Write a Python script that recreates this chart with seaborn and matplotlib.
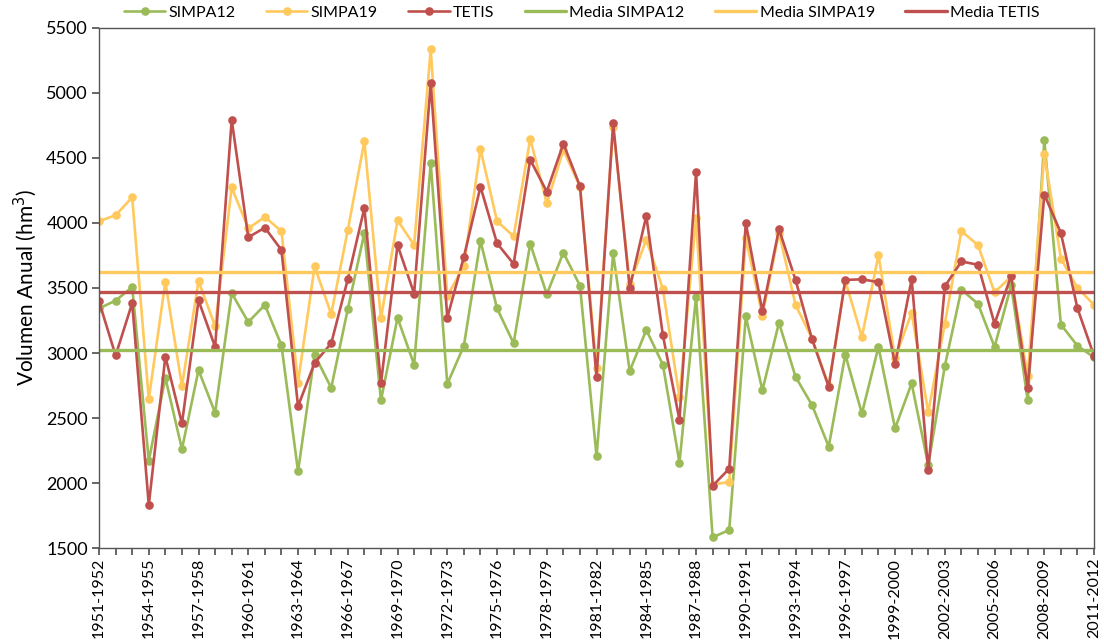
import numpy as np
import pandas as pd
import matplotlib
matplotlib.use('Agg')
import matplotlib.pyplot as plt
import seaborn as sns

# Años hidrológicos 1951-1952 ... 2011-2012
anios = [f"{a}-{a + 1}" for a in range(1951, 2012)]

simpa12 = [3343, 3403, 3507, 2171, 2809, 2261, 2869, 2540, 3460, 3238,
           3370, 3060, 2089, 2987, 2732, 3337, 3923, 2636, 3271, 2910,
           4460, 2762, 3055, 3863, 3343, 3074, 3841, 3452, 3772, 3518,
           2206, 3767, 2861, 3178, 2910, 2157, 3433, 1582, 1639, 3282,
           2713, 3233, 2817, 2598, 2280, 2987, 2535, 3047, 2420, 2767,
           2138, 2899, 3488, 3378, 3047, 3520, 2636, 4635, 3219, 3055,
           2967]
simpa19 = [4013, 4060, 4197, 2644, 3548, 2746, 3553, 3206, 4273, 3959,
           4046, 3937, 2773, 3666, 3299, 3945, 4629, 3266, 4021, 3830,
           5336, 3438, 3671, 4569, 4013, 3898, 4648, 4150, 4561, 4280,
           2882, 4740, 3534, 3871, 3493, 2658, 4041, 1987, 2009, 3885,
           3288, 3925, 3370, 3110, 2750, 3555, 3123, 3753, 2959, 3310,
           2543, 3225, 3937, 3830, 3466, 3589, 2820, 4531, 3726, 3501,
           3370]
tetis = [3397, 2981, 3384, 1831, 2973, 2458, 3405, 3047, 4794, 3890,
         3964, 3792, 2590, 2924, 3074, 3567, 4115, 2767, 3830, 3457,
         5073, 3271, 3739, 4279, 3844, 3685, 4487, 4241, 4610, 4284,
         2814, 4766, 3501, 4054, 3137, 2485, 4391, 1979, 2110, 4000,
         3321, 3953, 3562, 3104, 2740, 3562, 3567, 3545, 2913, 3567,
         2097, 3512, 3704, 3679, 3225, 3595, 2732, 4219, 3923, 3343,
         2978]

media_simpa12 = 3020
media_simpa19 = 3622
media_tetis = 3466

series = ['SIMPA12', 'SIMPA19', 'TETIS']
colores = {'SIMPA12': '#9BBB59', 'SIMPA19': '#FFC95E', 'TETIS': '#C0504D'}

sns.set_theme(style='white')
plt.rcParams['font.family'] = ['Lato', 'DejaVu Sans']
plt.rcParams['text.color'] = 'black'
plt.rcParams['xtick.color'] = 'black'
plt.rcParams['ytick.color'] = 'black'
plt.rcParams['axes.labelcolor'] = 'black'

idx = np.arange(len(anios))
df = pd.DataFrame({'idx': idx, 'SIMPA12': simpa12, 'SIMPA19': simpa19, 'TETIS': tetis})
medias = {'SIMPA12': media_simpa12, 'SIMPA19': media_simpa19, 'TETIS': media_tetis}

fig = plt.figure(figsize=(11.04, 6.43), dpi=100)
ax = fig.add_axes([0.0897, 0.1477, 0.9013, 0.8088])

for s in series:
    sns.lineplot(data=df, x='idx', y=s, ax=ax, color=colores[s], linewidth=1.9,
                 marker='o', markersize=6.2, markeredgewidth=0, label=s)
for s in series:
    sns.lineplot(x=idx, y=[medias[s]] * len(idx), ax=ax, color=colores[s],
                 linewidth=2.4, label='Media ' + s)

ax.set_xlim(0, len(anios) - 1)
ax.set_ylim(1500, 5500)
ax.set_yticks(np.arange(1500, 5501, 500))
ax.set_xticks(idx)
ax.set_xticklabels([a if i % 3 == 0 else '' for i, a in enumerate(anios)],
                   rotation=90, fontsize=11.5)
ax.tick_params(axis='y', labelsize=13, length=5, direction='out', left=True,
               color='#555555', pad=3)
ax.tick_params(axis='x', length=5, direction='out', bottom=True, color='#555555', pad=2)
ax.set_xlabel('')
ax.set_ylabel('Volumen Anual (hm$^3$)', fontsize=15, labelpad=5)
for sp in ax.spines.values():
    sp.set_color('#555555')
    sp.set_linewidth(1.0)

ax.legend(loc='lower center', bbox_to_anchor=(0.485, 1.0), ncol=6, frameon=False,
          fontsize=11.5, handlelength=2.6, columnspacing=1.9, handletextpad=0.2,
          borderaxespad=0.1)

fig.savefig('out.png', dpi=100)
